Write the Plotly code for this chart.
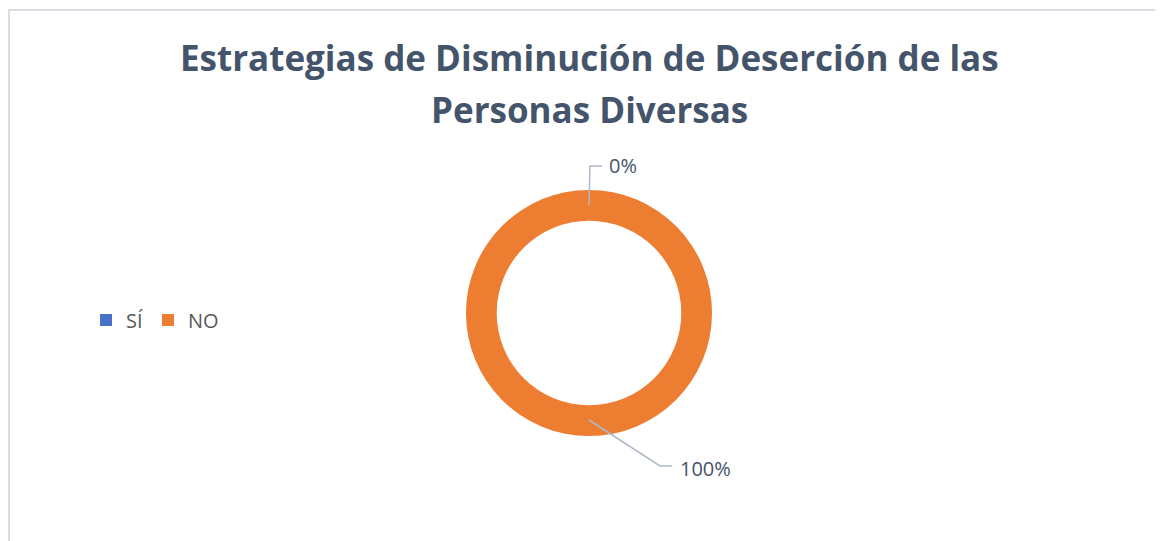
import plotly.graph_objects as go

labels = ["SÍ", "NO"]
values = [0, 100]
colors = ["#4472C4", "#ED7D31"]
title_lines = ["Estrategias de Disminución de Deserción de las", "Personas Diversas"]

# page body has an 8px default margin; figure sized to fit the window
OFF = 8
W, H = 1163 - OFF, 541 - OFF
def px(x):
    return (x - OFF) / W
def py(y):
    return 1 - (y - OFF) / H

total = sum(values)
pcts = [f"{round(v / total * 100)}%" for v in values]

fig = go.Figure()
fig.add_trace(go.Pie(
    labels=labels, values=values, hole=0.75, sort=False, direction="clockwise",
    marker=dict(colors=colors, line=dict(width=0)),
    textinfo="none", hoverinfo="label+percent",
    domain=dict(x=[px(466), px(712)], y=[py(436), py(190)]),
    showlegend=True,
))

text_color = "#44546A"
font = "Open Sans"
anns = [
    dict(text=f"<b>{title_lines[0]}</b>", x=px(589), y=py(57), xanchor="center", yanchor="middle",
         font=dict(family=font, size=35, color=text_color)),
    dict(text=f"<b>{title_lines[1]}</b>", x=px(589), y=py(109), xanchor="center", yanchor="middle",
         font=dict(family=font, size=35, color=text_color)),
    dict(text=pcts[0], x=px(607), y=py(166), xanchor="left", yanchor="middle",
         font=dict(family=font, size=20, color=text_color)),
    dict(text=pcts[1], x=px(678), y=py(468), xanchor="left", yanchor="middle",
         font=dict(family=font, size=20, color=text_color)),
]
for a in anns:
    a.update(xref="paper", yref="paper", showarrow=False)

line_col = "#ADB9CA"
shapes = [
    dict(type="rect", xref="paper", yref="paper", x0=px(9), x1=px(1162), y0=py(560), y1=py(10),
         line=dict(color="#D9DEE5", width=2)),
    dict(type="path", xref="paper", yref="paper",
         path=f"M {px(589)} {py(205)} L {px(590)} {py(166)} L {px(602)} {py(166)}",
         line=dict(color=line_col, width=1.5)),
    dict(type="path", xref="paper", yref="paper",
         path=f"M {px(589)} {py(420)} L {px(660)} {py(466)} L {px(672)} {py(466)}",
         line=dict(color=line_col, width=1.5)),
]

fig.update_layout(
    width=W, height=H, margin=dict(l=0, r=0, t=0, b=0),
    paper_bgcolor="white", plot_bgcolor="white",
    annotations=anns, shapes=shapes,
    legend=dict(orientation="h", x=px(86), y=py(320), xanchor="left", yanchor="middle",
                font=dict(family=font, size=20, color="#595959"), itemwidth=30,
                traceorder="normal"),
)

fig.write_html("out.html")
